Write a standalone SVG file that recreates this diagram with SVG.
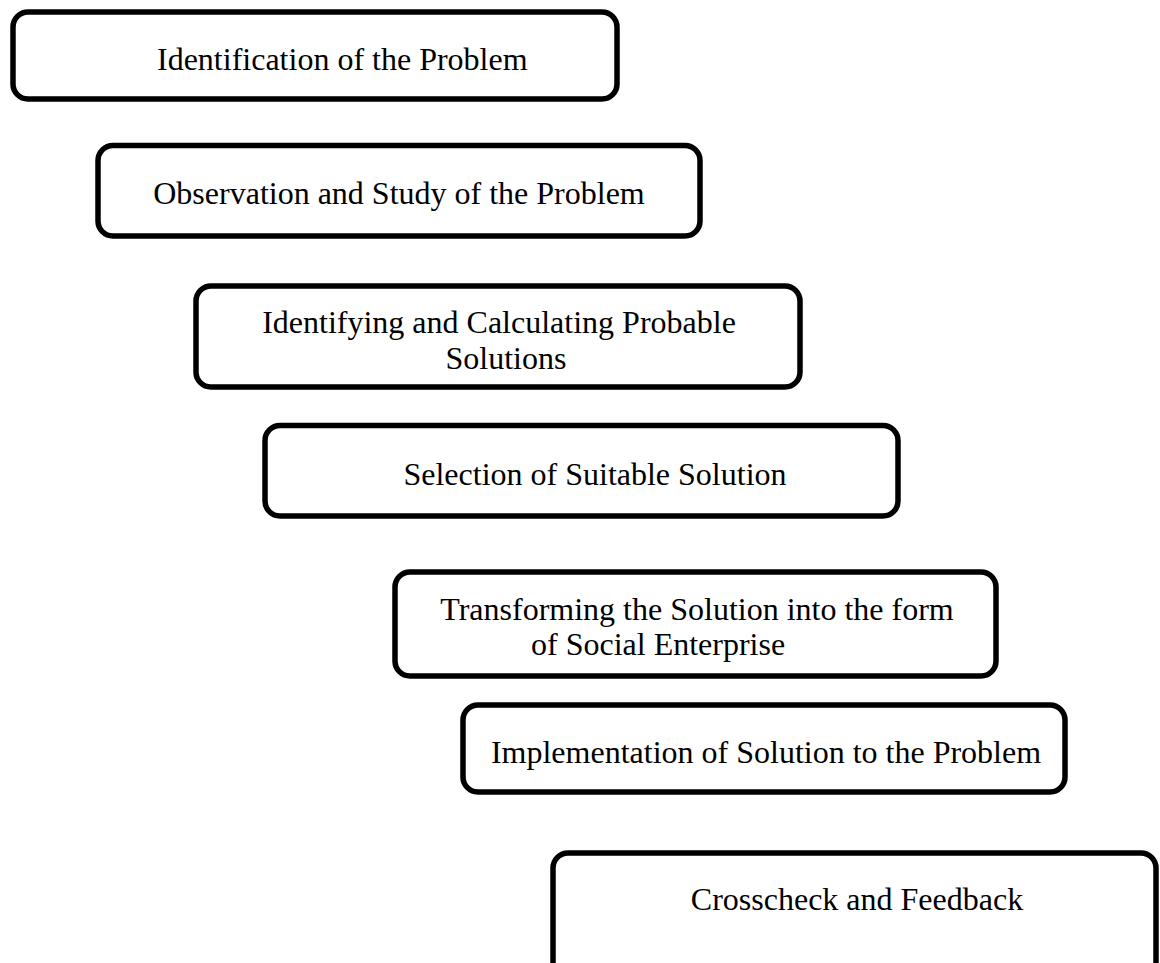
<svg xmlns="http://www.w3.org/2000/svg" width="1160" height="963" viewBox="0 0 1160 963">
<style>
.box{fill:#fff;stroke:#000;stroke-width:5.5}
.t{font-family:"Liberation Serif","Times New Roman",serif;font-size:32px;fill:#000}
.c{text-anchor:middle}
</style>
<rect width="1160" height="963" fill="#fff"/>
<g id="connectors"></g>
<g id="n1"><rect class="box" x="13" y="12" width="604" height="87" rx="15"/><text class="t" x="157" y="70">Identification of the Problem</text></g>
<g id="n2"><rect class="box" x="98" y="145.5" width="602" height="90.5" rx="15"/><text class="t c" x="399" y="204">Observation and Study of the Problem</text></g>
<g id="n3"><rect class="box" x="196" y="286" width="604" height="101" rx="15"/><text class="t c" x="499" y="333">Identifying and Calculating Probable</text><text class="t c" x="506" y="369">Solutions</text></g>
<g id="n4"><rect class="box" x="265" y="425.5" width="633" height="90.5" rx="15"/><text class="t c" x="595" y="485">Selection of Suitable Solution</text></g>
<g id="n5"><rect class="box" x="395" y="572" width="601" height="104" rx="15"/><text class="t c" x="697" y="620">Transforming the Solution into the form</text><text class="t" x="531" y="655">of Social Enterprise</text></g>
<g id="n6"><rect class="box" x="463" y="705" width="602" height="87" rx="15"/><text class="t c" x="766" y="763">Implementation of Solution to the Problem</text></g>
<g id="n7"><rect class="box" x="553" y="853" width="603" height="130" rx="15"/><text class="t c" x="857" y="910">Crosscheck and Feedback</text></g>
</svg>
